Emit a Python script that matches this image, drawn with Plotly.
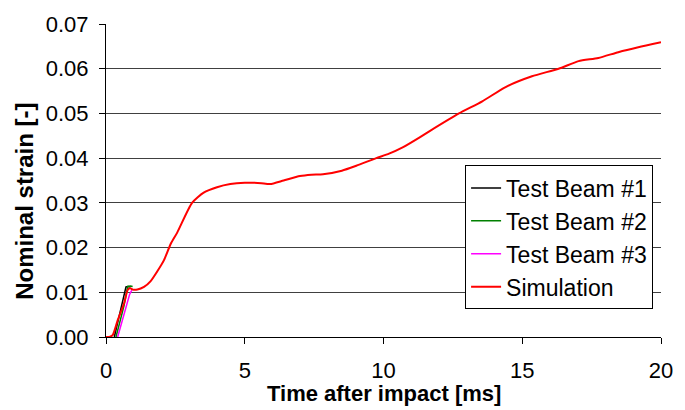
import plotly.graph_objects as go

# Simulation curve (time in ms, nominal strain)
sim_t = [0.0, 0.12, 0.24, 0.42, 0.66, 0.78, 0.87, 0.96, 1.13, 1.37, 1.61, 1.85, 2.09, 2.33,
         2.57, 3.1, 3.52, 4.0, 4.48, 5.0, 5.32, 5.6, 5.91, 6.4, 6.99, 7.4, 7.82, 8.5, 9.02,
         9.74, 10.2, 10.69, 11.29, 11.65, 12.72, 13.56, 14.4, 15.35, 16.31, 17.03, 17.74,
         18.46, 19.18, 20.0]
sim_s = [0.0, 0.0, 0.0004, 0.0037, 0.0077, 0.0105, 0.0109, 0.0106, 0.0106, 0.0112, 0.0125,
         0.0147, 0.0172, 0.0208, 0.0234, 0.0300, 0.0323, 0.0335, 0.0342, 0.0345, 0.0345,
         0.0344, 0.0342, 0.0350, 0.0360, 0.0363, 0.0364, 0.0372, 0.0383, 0.0400, 0.0410,
         0.0424, 0.0446, 0.0460, 0.0500, 0.0527, 0.0559, 0.0583, 0.0600, 0.0617, 0.0624,
         0.0637, 0.0648, 0.0659]

beam1_t = [0.30, 0.45, 0.60, 0.72, 0.80, 0.88]
beam1_s = [0.0, 0.004, 0.008, 0.0112, 0.0113, 0.0112]
beam2_t = [0.36, 0.50, 0.65, 0.78, 0.88, 0.96]
beam2_s = [0.0, 0.0035, 0.007, 0.0113, 0.0114, 0.0113]
beam3_t = [0.42, 0.55, 0.70, 0.85, 0.93]
beam3_s = [0.0, 0.003, 0.0062, 0.0095, 0.0105]

x_ticks = [0, 5, 10, 15, 20]
y_ticks = [0.0, 0.01, 0.02, 0.03, 0.04, 0.05, 0.06, 0.07]

FONT = "Liberation Sans, Arial, sans-serif"

fig = go.Figure()
fig.add_trace(go.Scatter(x=beam1_t, y=beam1_s, mode="lines", name="Test Beam #1",
                         line=dict(color="#000000", width=1.5)))
fig.add_trace(go.Scatter(x=beam2_t, y=beam2_s, mode="lines", name="Test Beam #2",
                         line=dict(color="#008000", width=1.5)))
fig.add_trace(go.Scatter(x=beam3_t, y=beam3_s, mode="lines", name="Test Beam #3",
                         line=dict(color="#FF00FF", width=1.5)))
fig.add_trace(go.Scatter(x=sim_t, y=sim_s, mode="lines", name="Simulation",
                         line=dict(color="#FF0000", width=2, shape="spline", smoothing=0.6)))

fig.update_layout(
    width=685, height=410,
    margin=dict(l=106, r=22, t=17, b=73),
    paper_bgcolor="white", plot_bgcolor="white",
    font=dict(family=FONT, color="black", size=22),
    showlegend=True,
    legend=dict(x=0.647, y=0.548, xanchor="left", yanchor="top",
                bgcolor="white", bordercolor="black", borderwidth=1,
                font=dict(size=23, family=FONT, color="black"),
                itemwidth=30, tracegroupgap=0),
    xaxis=dict(range=[0, 20], tickvals=x_ticks, ticktext=[str(v) for v in x_ticks],
               ticks="outside", ticklen=6, tickcolor="black",
               showline=True, linecolor="black", linewidth=1,
               showgrid=False, zeroline=False, ticklabelstandoff=8,
               tickfont=dict(size=22, family=FONT)),
    yaxis=dict(range=[0, 0.07], tickvals=y_ticks,
               ticktext=[f"{v:.2f}" for v in y_ticks],
               ticks="outside", ticklen=6, tickcolor="black",
               showline=True, linecolor="black", linewidth=1,
               showgrid=True, gridcolor="#404040", gridwidth=1,
               zeroline=False, ticklabelstandoff=6,
               tickfont=dict(size=22, family=FONT)),
    annotations=[
        dict(text="<b>Time after impact [ms]</b>", xref="paper", yref="paper",
             x=0.5, y=-0.18, xanchor="center", yanchor="middle", showarrow=False,
             font=dict(size=22, family=FONT, color="black")),
        dict(text="<b>Nominal strain [-]</b>", xref="paper", yref="paper",
             x=-0.146, y=0.435, xanchor="center", yanchor="middle", showarrow=False,
             textangle=-90, font=dict(size=24, family=FONT, color="black")),
    ],
)

fig.write_html("out.html")
